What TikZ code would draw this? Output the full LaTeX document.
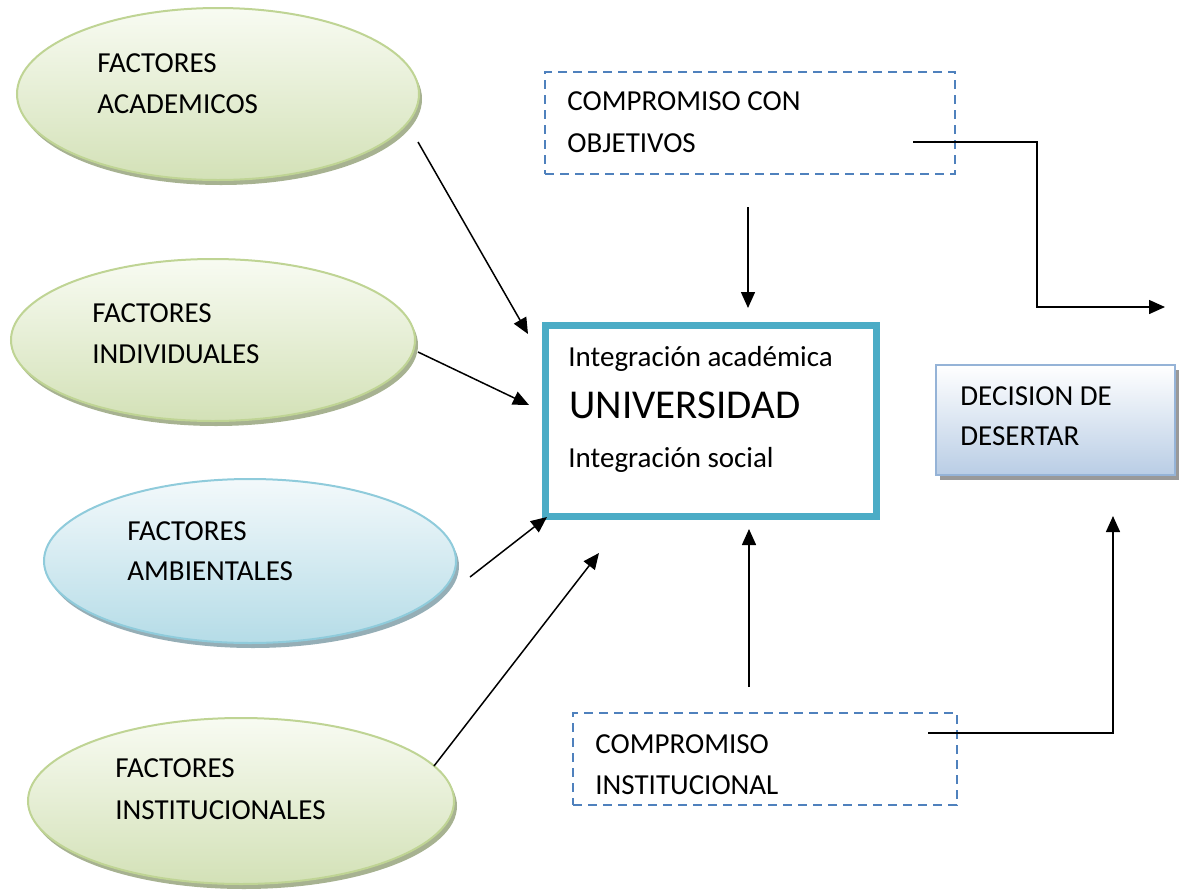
\documentclass[tikz,border=0pt]{standalone}
\usepackage{fontspec}
\setmainfont{Carlito}
\usetikzlibrary{shapes.geometric,shadows,arrows.meta}
\definecolor{gborder}{HTML}{BFD494}
\definecolor{gtop}{HTML}{F8FBF2}
\definecolor{gbot}{HTML}{D3E1B7}
\definecolor{gshadow}{HTML}{9DAA85}
\definecolor{bborder}{HTML}{8FCBDB}
\definecolor{btop}{HTML}{F3F9FB}
\definecolor{bbot}{HTML}{B5DCE7}
\definecolor{bshadow}{HTML}{8AA5AE}
\definecolor{teal}{HTML}{4BACC6}
\definecolor{dashblue}{HTML}{4F81BD}
\definecolor{decborder}{HTML}{95B3D7}
\definecolor{decbot}{HTML}{B9CDE5}
\begin{document}
\begin{tikzpicture}[x=0.5pt,y=-0.5pt,
  lbl/.style={inner sep=0pt, anchor=base west, font=\fontsize{14.5}{17}\selectfont},
  gell/.style={ellipse, draw=gborder, line width=1pt, top color=gtop, bottom color=gbot,
     drop shadow={shadow xshift=1.5pt, shadow yshift=-2.5pt, fill=gshadow, opacity=0.9}},
  bell/.style={ellipse, draw=bborder, line width=1pt, top color=btop, bottom color=bbot,
     drop shadow={shadow xshift=1.5pt, shadow yshift=-2.5pt, fill=bshadow, opacity=0.9}},
  dbox/.style={rectangle, draw=dashblue, line width=1.2pt, dash pattern=on 4.5pt off 3pt},
  conn/.style={line width=0.75pt, -{Triangle[length=8pt,width=7pt]}},
  plainline/.style={line width=0.75pt}
]
\useasboundingbox (0,0) rectangle (1180,890);

% ellipses
\node[gell, minimum width=201pt, minimum height=86pt] (e1) at (218,94) {};
\node[gell, minimum width=202pt, minimum height=81pt] (e2) at (213,340) {};
\node[bell, minimum width=206pt, minimum height=82pt] (e3) at (250,561) {};
\node[gell, minimum width=213pt, minimum height=83pt] (e4) at (241,801) {};

\node[lbl] (t1a) at (97,72) {FACTORES};
\node[lbl] (t1b) at (97,113) {ACADEMICOS};
\node[lbl] (t2a) at (92,322) {FACTORES};
\node[lbl] (t2b) at (92,363) {INDIVIDUALES};
\node[lbl] (t3a) at (127,540) {FACTORES};
\node[lbl] (t3b) at (127,580) {AMBIENTALES};
\node[lbl] (t4a) at (115,777) {FACTORES};
\node[lbl] (t4b) at (115,819) {INSTITUCIONALES};

% central box
\node[rectangle, draw=teal, line width=3.5pt, fill=white, minimum width=165.5pt, minimum height=95.5pt] (uni) at (711,421) {};
\node[lbl] (u1) at (568,366) {Integración académica};
\node[lbl, font=\fontsize{20.5}{24}\selectfont] (u2) at (569,418) {UNIVERSIDAD};
\node[lbl] (u3) at (568,467) {Integración social};

% dashed boxes
\node[dbox, minimum width=205pt, minimum height=51pt] (cobj) at (750,123) {};
\node[lbl] (c1a) at (567,110) {COMPROMISO CON};
\node[lbl] (c1b) at (567,152) {OBJETIVOS};
\node[dbox, minimum width=192pt, minimum height=46pt] (cinst) at (765,759) {};
\node[lbl] (c2a) at (595,753) {COMPROMISO};
\node[lbl] (c2b) at (595,794) {INSTITUCIONAL};

% decision box
\node[rectangle, draw=decborder, line width=1pt, top color=white, bottom color=decbot,
   drop shadow={shadow xshift=2pt, shadow yshift=-2.5pt, fill=black!50, opacity=0.8},
   minimum width=119.5pt, minimum height=55pt] (dec) at (1055.5,420) {};
\node[lbl] (d1) at (960,405) {DECISION DE};
\node[lbl] (d2) at (960,445) {DESERTAR};

% connector coordinates
\coordinate (a1s) at (418,142); \coordinate (a1e) at (528,334);
\coordinate (a2s) at (418,352); \coordinate (a2e) at (529,405);
\coordinate (a3s) at (470,577); \coordinate (a3e) at (547,517);
\coordinate (a4s) at (434,766); \coordinate (a4e) at (599,553);
\coordinate (dns) at (748,207); \coordinate (dne) at (748,308);
\coordinate (ups) at (749,687); \coordinate (upe) at (749,529);
\coordinate (r1s) at (913,142); \coordinate (r1k1) at (1037,142); \coordinate (r1k2) at (1037,307); \coordinate (r1e) at (1165,307);
\coordinate (r2s) at (928,733); \coordinate (r2k) at (1113,733); \coordinate (r2e) at (1113,516);

\draw[conn] (a1s) -- (a1e);
\draw[conn] (a2s) -- (a2e);
\draw[conn] (a3s) -- (a3e);
\draw[conn] (a4s) -- (a4e);
\draw[conn] (dns) -- (dne);
\draw[conn] (ups) -- (upe);
\draw[conn] (r1s) -- (r1k1) -- (r1k2) -- (r1e);
\draw[conn] (r2s) -- (r2k) -- (r2e);
\end{tikzpicture}
\end{document}
